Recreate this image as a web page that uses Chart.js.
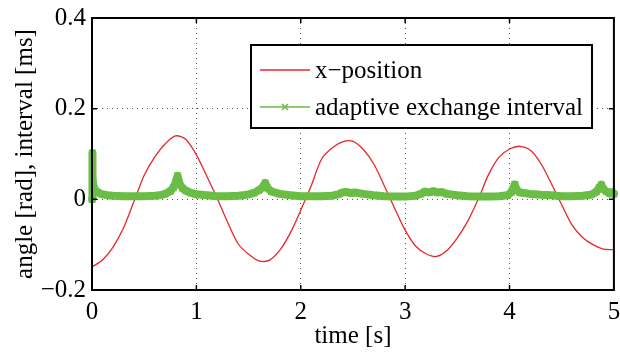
<!DOCTYPE html>
<html>
<head>
<meta charset="utf-8">
<script src="https://cdn.jsdelivr.net/npm/chart.js@4"></script>
<style>
html, body { margin: 0; padding: 0; background: #fff; }
</style>
</head>
<body>
<canvas id="posChart" width="620" height="356"></canvas>
<script>
// x-position (red), read every 0.1 s
var posTime = [0, 0.1, 0.2, 0.3, 0.4, 0.5, 0.6, 0.7, 0.8, 0.9,
               1.0, 1.1, 1.2, 1.3, 1.4, 1.5, 1.6, 1.7, 1.8, 1.9,
               2.0, 2.1, 2.2, 2.3, 2.4, 2.5, 2.6, 2.7, 2.8, 2.9,
               3.0, 3.1, 3.2, 3.3, 3.4, 3.5, 3.6, 3.7, 3.8, 3.9,
               4.0, 4.1, 4.2, 4.3, 4.4, 4.5, 4.6, 4.7, 4.8, 4.9, 5.0];
var posValues = [-0.149, -0.134, -0.106, -0.064, -0.006, 0.053, 0.093, 0.122, 0.140, 0.132,
                 0.098, 0.051, 0.002, -0.051, -0.098, -0.121, -0.136, -0.134, -0.112, -0.074,
                 -0.024, 0.030, 0.089, 0.113, 0.127, 0.128, 0.110, 0.078, 0.030, -0.020,
                 -0.068, -0.103, -0.120, -0.126, -0.113, -0.085, -0.048, 0.000, 0.055, 0.093,
                 0.111, 0.117, 0.108, 0.079, 0.035, -0.012, -0.057, -0.084, -0.100, -0.110, -0.111];

// adaptive exchange interval (green)
var intervalTime = [0, 0.003, 0.006, 0.012, 0.025, 0.05, 0.1, 0.15, 0.2, 0.3, 0.4, 0.5, 0.6, 0.65,
                    0.7, 0.75, 0.78, 0.8, 0.82, 0.84, 0.87, 0.9, 0.95, 1.0, 1.1, 1.2, 1.3, 1.4,
                    1.45, 1.5, 1.55, 1.6, 1.64, 1.66, 1.68, 1.72, 1.8, 1.9, 2.0, 2.1, 2.2, 2.3,
                    2.36, 2.4, 2.44, 2.48, 2.52, 2.6, 2.7, 2.8, 2.9, 3.0, 3.1, 3.15, 3.19, 3.23,
                    3.27, 3.31, 3.35, 3.4, 3.5, 3.6, 3.7, 3.8, 3.9, 3.98, 4.02, 4.05, 4.07, 4.1,
                    4.2, 4.3, 4.4, 4.5, 4.6, 4.7, 4.78, 4.83, 4.86, 4.88, 4.9, 4.93, 4.96, 4.98, 5.0];
var intervalValues = [0, 0.102, 0.05, 0.03, 0.022, 0.016, 0.011, 0.009, 0.008, 0.007, 0.007, 0.007, 0.008, 0.009,
                      0.012, 0.018, 0.026, 0.036, 0.052, 0.034, 0.024, 0.019, 0.014, 0.011, 0.009, 0.007, 0.007, 0.008,
                      0.009, 0.011, 0.014, 0.02, 0.028, 0.036, 0.025, 0.017, 0.012, 0.009, 0.007, 0.007, 0.007, 0.008,
                      0.011, 0.015, 0.016, 0.014, 0.015, 0.012, 0.009, 0.007, 0.006, 0.006, 0.008, 0.012, 0.017, 0.015,
                      0.018, 0.015, 0.016, 0.012, 0.009, 0.007, 0.006, 0.006, 0.007, 0.009, 0.016, 0.033, 0.02, 0.015,
                      0.012, 0.010, 0.009, 0.007, 0.007, 0.008, 0.010, 0.016, 0.026, 0.032, 0.022, 0.017, 0.013, 0.016, 0.012];

var xTicks = [0, 1, 2, 3, 4, 5];
var yTicks = [-0.2, 0, 0.2, 0.4];

var redColor = '#e8262b';
var greenColor = '#6abd45';
var serif = '"Liberation Serif", "Times New Roman", serif';

function toPoints(xs, ys) {
    var pts = [];
    for (var i = 0; i < xs.length; i++) pts.push({ x: xs[i], y: ys[i] });
    return pts;
}

// box round the plot, inward ticks, legend
var boxPlugin = {
    id: 'boxPlugin',
    afterDraw: function (chart) {
        var ctx = chart.ctx;
        var a = chart.chartArea;
        var xs = chart.scales.x, ys = chart.scales.y;
        ctx.save();
        ctx.strokeStyle = '#000';
        ctx.lineWidth = 2;
        ctx.strokeRect(a.left, a.top, a.right - a.left, a.bottom - a.top);
        ctx.lineWidth = 1.5;
        ctx.beginPath();
        xTicks.forEach(function (t) {
            var px = xs.getPixelForValue(t);
            ctx.moveTo(px, a.bottom); ctx.lineTo(px, a.bottom - 5);
            ctx.moveTo(px, a.top); ctx.lineTo(px, a.top + 5);
        });
        yTicks.forEach(function (t) {
            var py = ys.getPixelForValue(t);
            ctx.moveTo(a.left, py); ctx.lineTo(a.left + 5, py);
            ctx.moveTo(a.right, py); ctx.lineTo(a.right - 5, py);
        });
        ctx.stroke();

        // legend
        var lx = 251, ly = 45, lw = 341, lh = 83;
        ctx.fillStyle = '#fff';
        ctx.fillRect(lx, ly, lw, lh);
        ctx.lineWidth = 2;
        ctx.strokeRect(lx, ly, lw, lh);
        ctx.font = '25px ' + serif;
        ctx.textBaseline = 'middle';
        ctx.textAlign = 'left';
        var rows = [70, 107];
        chart.data.datasets.forEach(function (ds, i) {
            var y = rows[i];
            ctx.strokeStyle = ds.borderColor;
            ctx.lineWidth = 1.5;
            ctx.beginPath();
            ctx.moveTo(260, y); ctx.lineTo(310, y);
            ctx.stroke();
            if (ds.pointRadius > 0) {
                ctx.beginPath();
                ctx.moveTo(282, y - 3); ctx.lineTo(288, y + 3);
                ctx.moveTo(282, y + 3); ctx.lineTo(288, y - 3);
                ctx.stroke();
            }
            ctx.fillStyle = '#000';
            ctx.fillText(ds.label, 315, y + 1);
        });
        ctx.restore();
    }
};

new Chart(document.getElementById('posChart'), {
    type: 'line',
    data: {
        datasets: [
            {
                label: 'x\u2212position',
                data: toPoints(posTime, posValues),
                borderColor: redColor,
                borderWidth: 1.3,
                pointRadius: 0,
                tension: 0.3,
                order: 2
            },
            {
                label: 'adaptive exchange interval',
                data: toPoints(intervalTime, intervalValues),
                borderColor: greenColor,
                backgroundColor: greenColor,
                borderWidth: 8,
                borderJoinStyle: 'round',
                borderCapStyle: 'round',
                pointStyle: 'crossRot',
                pointRadius: 4.5,
                pointBorderWidth: 1.6,
                tension: 0,
                clip: 5,
                order: 1
            }
        ]
    },
    options: {
        responsive: false,
        animation: false,
        layout: { padding: { top: 18, right: 4, left: 0, bottom: 0 } },
        plugins: { legend: { display: false }, tooltip: { enabled: false } },
        scales: {
            x: {
                type: 'linear',
                min: 0, max: 5,
                afterBuildTicks: function (s) { s.ticks = xTicks.map(function (v) { return { value: v }; }); },
                afterFit: function (s) { s.height = 66; s.paddingLeft = 0; s.paddingRight = 0; },
                ticks: { color: '#000', font: { family: serif, size: 25 }, padding: 7, maxRotation: 0 },
                grid: { color: '#555', drawTicks: false, lineWidth: 1 },
                border: { display: false, dash: [1, 4] },
                title: { display: true, text: 'time [s]', color: '#000', font: { family: serif, size: 25 }, padding: { top: 0, bottom: 5 } }
            },
            y: {
                min: -0.2, max: 0.4,
                afterBuildTicks: function (s) { s.ticks = yTicks.map(function (v) { return { value: v }; }); },
                afterFit: function (s) { s.width = 92; s.paddingTop = 0; s.paddingBottom = 0; },
                ticks: {
                    color: '#000', font: { family: serif, size: 25 }, padding: 6,
                    callback: function (v) { return String(Math.round(v * 10) / 10).replace('-', '\u2212'); }
                },
                grid: { color: '#555', drawTicks: false, lineWidth: 1 },
                border: { display: false, dash: [1, 4] },
                title: { display: true, text: 'angle [rad], interval [ms]', color: '#000', font: { family: serif, size: 25 }, padding: { top: 10, bottom: 0 } }
            }
        }
    },
    plugins: [boxPlugin]
});
</script>
</body>
</html>
